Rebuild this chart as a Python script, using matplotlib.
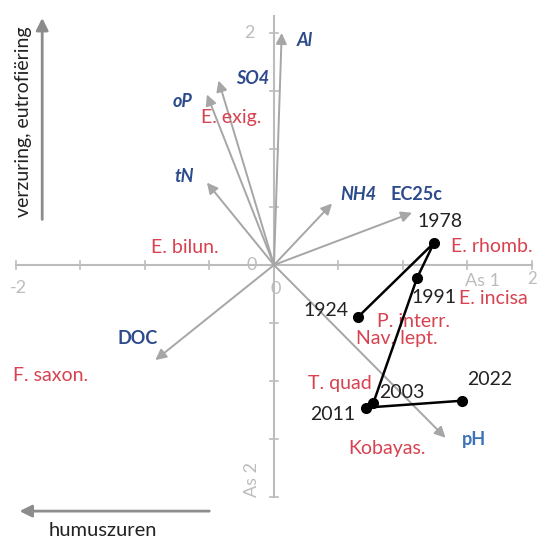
import matplotlib
matplotlib.use('Agg')
import matplotlib.pyplot as plt

# years (site scores)
years = ['1924', '1978', '1991', '2003', '2011', '2022']
year_x = [0.65, 1.24, 1.11, 0.77, 0.71, 1.46]
year_y = [-0.45, 0.19, -0.11, -1.19, -1.23, -1.17]
year_off = [(-32, 7), (6, 21), (17, -20), (29, 11), (-33, -7), (27, 21)]

# environmental vectors
env_names = ['Al', 'SO4', 'oP', 'tN', 'NH4', 'EC25c', 'DOC', 'pH']
env_x = [0.06, -0.43, -0.52, -0.52, 0.45, 1.07, -0.92, 1.33]
env_y = [2.00, 1.59, 1.47, 0.71, 0.53, 0.45, -0.82, -1.49]
env_off = [(23, -8), (34, 2), (-24, -7), (-23, 6), (26, 9), (4, 18), (-18, 22), (28, -2)]
env_italic = [True, True, True, True, True, False, False, False]

# species scores
species = ['E. exig.', 'E. bilun.', 'E. rhomb.', 'E. incisa', 'P. interr.',
           'Nav. lept.', 'T. quad', 'Kobayas.', 'F. saxon.']
sp_x = [-0.33, -0.69, 1.69, 1.70, 1.08, 0.95, 0.51, 0.88, -1.73]
sp_y = [1.27, 0.15, 0.16, -0.29, -0.49, -0.63, -1.02, -1.58, -0.95]

ticks = [-2, -1.5, -1, -0.5, 0, 0.5, 1, 1.5, 2]

RED = '#d8414f'
BLUE = '#2c4a8c'
GREY = '#a6a6a6'
AXC = '#bcbcbc'
FS = 14

plt.rcParams['font.family'] = ['Lato', 'DejaVu Sans']

fig = plt.figure(figsize=(5.41, 5.42), dpi=100)
ax = fig.add_axes([0, 0, 1, 1])
ax.set_xlim(-2.124, 2.07)
ax.set_ylim(-2.388, 2.284)
ax.axis('off')

# axes through origin
ax.plot([-2, 2], [0, 0], color=AXC, lw=1.5, zorder=1)
ax.plot([0, 0], [-2, 2.15], color=AXC, lw=1.5, zorder=1)
for t in ticks:
    ax.plot([t, t], [-0.035, 0.035], color=AXC, lw=1.2, zorder=1)
    ax.plot([-0.03, 0.03], [t, t], color=AXC, lw=1.2, zorder=1)
ax.text(-1.98, -0.2, '-2', color=AXC, fontsize=13, ha='center', va='center')
ax.text(-0.17, 0.0, '0', color=AXC, fontsize=13, ha='center', va='center')
ax.text(0.01, -0.21, '0', color=AXC, fontsize=13, ha='center', va='center')
ax.text(-0.19, 2.0, '2', color=AXC, fontsize=13, ha='center', va='center')
ax.text(2.0, -0.12, '2', color=AXC, fontsize=12, ha='center', va='center')
ax.text(1.62, -0.14, 'As 1', color=AXC, fontsize=13, ha='center', va='center')
ax.text(-0.17, -1.85, 'As 2', color=AXC, fontsize=13, ha='center', va='center',
        rotation=90)

# environmental arrows
for name, x, y, off, it in zip(env_names, env_x, env_y, env_off, env_italic):
    ax.annotate('', xy=(x, y), xytext=(0, 0),
                arrowprops=dict(arrowstyle='-|>', color=GREY, lw=1.4,
                                mutation_scale=16, shrinkA=0, shrinkB=0),
                zorder=2)
    col = '#3c72b8' if name == 'pH' else BLUE
    ax.annotate(name, xy=(x, y), xytext=off, textcoords='offset pixels',
                color=col, fontsize=13, fontweight='bold',
                fontstyle='italic' if it else 'normal',
                ha='center', va='center', zorder=4)

# species labels
for name, x, y in zip(species, sp_x, sp_y):
    ax.text(x, y, name, color=RED, fontsize=FS, ha='center', va='center', zorder=3)

# trajectory of years
ax.plot(year_x, year_y, color='black', lw=1.8, marker='o', markersize=7, zorder=5)
for name, x, y, off in zip(years, year_x, year_y, year_off):
    ax.annotate(name, xy=(x, y), xytext=off, textcoords='offset pixels',
                color='#222222', fontsize=FS, ha='center', va='center', zorder=6)

# interpretation arrows
fig.patches.append(matplotlib.patches.FancyArrowPatch(
    (0.078, 0.590), (0.078, 0.972), transform=fig.transFigure,
    arrowstyle='-|>', color='#8c8c8c', lw=2, mutation_scale=18))
fig.text(0.043, 0.775, 'verzuring, eutrofiëring', rotation=90, fontsize=14,
         ha='center', va='center', color='#222222')
fig.patches.append(matplotlib.patches.FancyArrowPatch(
    (0.392, 0.057), (0.031, 0.057), transform=fig.transFigure,
    arrowstyle='-|>', color='#8c8c8c', lw=2, mutation_scale=18))
fig.text(0.191, 0.022, 'humuszuren', fontsize=14.5, ha='center', va='center',
         color='#222222')

fig.savefig('out.png', dpi=100)
